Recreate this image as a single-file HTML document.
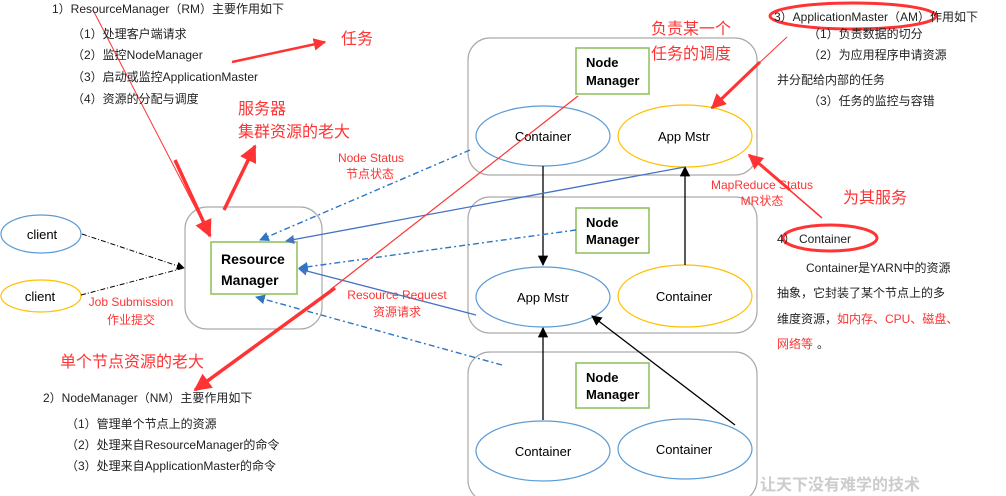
<!DOCTYPE html>
<html><head><meta charset="utf-8"><style>
body{margin:0;background:#fff;width:1006px;height:496px;overflow:hidden}
svg{display:block}
text{font-family:"Liberation Sans","Noto Sans CJK SC",sans-serif}
</style></head><body>
<svg width="1006" height="496" viewBox="0 0 1006 496" xmlns="http://www.w3.org/2000/svg">
<defs>
<marker id="ab" viewBox="0 0 10 10" refX="9" refY="5" markerWidth="8" markerHeight="8" orient="auto"><path d="M0,0L10,5L0,10z" fill="#000"/></marker>
<marker id="abl" viewBox="0 0 10 10" refX="9" refY="5" markerWidth="7" markerHeight="7" orient="auto"><path d="M0,0L10,5L0,10z" fill="#4472c4"/></marker>
<marker id="adb" viewBox="0 0 10 10" refX="9" refY="5" markerWidth="7" markerHeight="7" orient="auto"><path d="M0,0L10,5L0,10z" fill="#2e75c6"/></marker>
<marker id="ar" viewBox="0 0 10 10" refX="9" refY="5" markerWidth="5" markerHeight="5" orient="auto"><path d="M0,0L10,5L0,10z" fill="#f33"/></marker>
</defs>
<g fill="none" stroke="#aaa" stroke-width="1.2">
<rect x="185" y="207" width="137" height="122" rx="22"/>
<rect x="468" y="38" width="289" height="137" rx="22"/>
<rect x="468" y="197" width="289" height="136" rx="22"/>
<rect x="468" y="352" width="289" height="150" rx="22"/>
</g>
<g fill="#fff" stroke="#8cbd5c" stroke-width="1.5">
<rect x="211" y="242" width="86" height="52"/>
<rect x="576" y="48" width="73" height="46"/>
<rect x="576" y="208" width="73" height="45"/>
<rect x="576" y="363" width="73" height="45"/>
</g>
<g font-weight="bold" font-size="14" fill="#000">
<text x="221" y="264">Resource</text><text x="221" y="285">Manager</text>
</g>
<g font-weight="bold" font-size="13" fill="#000">
<text x="586" y="67">Node</text><text x="586" y="85">Manager</text>
<text x="586" y="227">Node</text><text x="586" y="244">Manager</text>
<text x="586" y="382">Node</text><text x="586" y="399">Manager</text>
</g>
<g fill="#fff" stroke-width="1.2">
<ellipse cx="41" cy="234" rx="40" ry="19" stroke="#5b9bd5"/>
<ellipse cx="41" cy="296" rx="40" ry="16" stroke="#ffc000"/>
<ellipse cx="543" cy="136" rx="67" ry="30" stroke="#5b9bd5"/>
<ellipse cx="685" cy="136" rx="67" ry="31" stroke="#ffc000"/>
<ellipse cx="543" cy="297" rx="67" ry="30" stroke="#5b9bd5"/>
<ellipse cx="685" cy="296" rx="67" ry="31" stroke="#ffc000"/>
<ellipse cx="543" cy="451" rx="67" ry="30" stroke="#5b9bd5"/>
<ellipse cx="685" cy="449" rx="67" ry="30" stroke="#5b9bd5"/>
</g>
<g font-size="13" fill="#000" text-anchor="middle">
<text x="42" y="239">client</text><text x="40" y="301">client</text>
<text x="543" y="141">Container</text><text x="684" y="141">App Mstr</text>
<text x="543" y="302">App Mstr</text><text x="684" y="301">Container</text>
<text x="543" y="456">Container</text><text x="684" y="454">Container</text>
</g>
<g stroke="#000" stroke-width="1.3" fill="none">
<line x1="543" y1="166" x2="543" y2="265" marker-end="url(#ab)"/>
<line x1="685" y1="265" x2="685" y2="167" marker-end="url(#ab)"/>
<line x1="543" y1="420" x2="543" y2="328" marker-end="url(#ab)"/>
<line x1="735" y1="425" x2="592" y2="316" marker-end="url(#ab)"/>
<line x1="82" y1="234" x2="184" y2="268" stroke-dasharray="5,2,1,2" stroke-width="1" marker-end="url(#ab)"/>
<line x1="81" y1="295" x2="184" y2="268" stroke-dasharray="5,2,1,2" stroke-width="1"/>
</g>
<g stroke="#4472c4" stroke-width="1.3" fill="none">
<line x1="685" y1="167" x2="286" y2="241" marker-end="url(#abl)"/>
<line x1="476" y1="315" x2="299" y2="269" marker-end="url(#abl)"/>
</g>
<g stroke="#2e75c6" stroke-width="1.4" fill="none" stroke-dasharray="6,3,2,3">
<line x1="470" y1="150" x2="260" y2="240" marker-end="url(#adb)"/>
<line x1="576" y1="230" x2="299" y2="268" marker-end="url(#adb)"/>
<line x1="502" y1="365" x2="256" y2="297" marker-end="url(#adb)"/>
</g>
<g stroke="#f33" fill="none">
<line x1="93" y1="10" x2="210" y2="236" stroke-width="1"/>
<line x1="175" y1="160" x2="210" y2="236" stroke-width="3.5" marker-end="url(#ar)"/>
<line x1="224" y1="210" x2="255" y2="146" stroke-width="3.5" marker-end="url(#ar)"/>
<line x1="232" y1="62" x2="325" y2="42" stroke-width="2.5" marker-end="url(#ar)"/>
<line x1="578" y1="96" x2="330" y2="290" stroke-width="1.2"/>
<line x1="335" y1="288" x2="195" y2="390" stroke-width="3.5" marker-end="url(#ar)"/>
<line x1="787" y1="37" x2="711" y2="108" stroke-width="1"/>
<line x1="760" y1="62" x2="712" y2="108" stroke-width="3" marker-end="url(#ar)"/>
<line x1="822" y1="218" x2="749" y2="155" stroke-width="1.5"/>
<line x1="790" y1="190" x2="749" y2="155" stroke-width="3" marker-end="url(#ar)"/>
<ellipse cx="853" cy="16" rx="83" ry="13" stroke-width="3"/>
<ellipse cx="830" cy="238" rx="47" ry="13" stroke-width="3"/>
</g>
<g font-size="12" fill="#222">
<text x="52" y="13">1）ResourceManager（RM）主要作用如下</text>
<text x="72" y="38">（1）处理客户端请求</text>
<text x="72" y="59">（2）监控NodeManager</text>
<text x="72" y="81">（3）启动或监控ApplicationMaster</text>
<text x="72" y="103">（4）资源的分配与调度</text>
<text x="43" y="402">2）NodeManager（NM）主要作用如下</text>
<text x="66" y="428">（1）管理单个节点上的资源</text>
<text x="66" y="449">（2）处理来自ResourceManager的命令</text>
<text x="66" y="470">（3）处理来自ApplicationMaster的命令</text>
<text x="774" y="21">3）ApplicationMaster（AM）作用如下</text>
<text x="808" y="38">（1）负责数据的切分</text>
<text x="808" y="59">（2）为应用程序申请资源</text>
<text x="777" y="84">并分配给内部的任务</text>
<text x="808" y="105">（3）任务的监控与容错</text>
<text x="777" y="243">4） Container</text>
<text x="806" y="272">Container是YARN中的资源</text>
<text x="777" y="297">抽象，它封装了某个节点上的多</text>
<text x="777" y="323">维度资源，<tspan fill="#f33">如内存、CPU、磁盘、</tspan></text>
<text x="777" y="348" fill="#f33">网络等</text><text x="817" y="348">。</text>
</g>
<g fill="#f33" font-size="16">
<text x="341" y="44">任务</text>
<text x="238" y="114">服务器</text>
<text x="238" y="137">集群资源的老大</text>
<text x="651" y="34">负责某一个</text>
<text x="651" y="59">任务的调度</text>
<text x="843" y="203">为其服务</text>
<text x="60" y="367">单个节点资源的老大</text>
</g>
<g fill="#f33" font-size="12" text-anchor="middle">
<text x="371" y="162">Node Status</text><text x="370" y="178">节点状态</text>
<text x="762" y="189">MapReduce Status</text><text x="762" y="205">MR状态</text>
<text x="131" y="306">Job Submission</text><text x="131" y="324">作业提交</text>
<text x="397" y="299">Resource Request</text><text x="397" y="316">资源请求</text>
</g>
<text x="760" y="490" font-size="16" fill="#ccc" font-weight="bold">让天下没有难学的技术</text>
</svg>
</body></html>
